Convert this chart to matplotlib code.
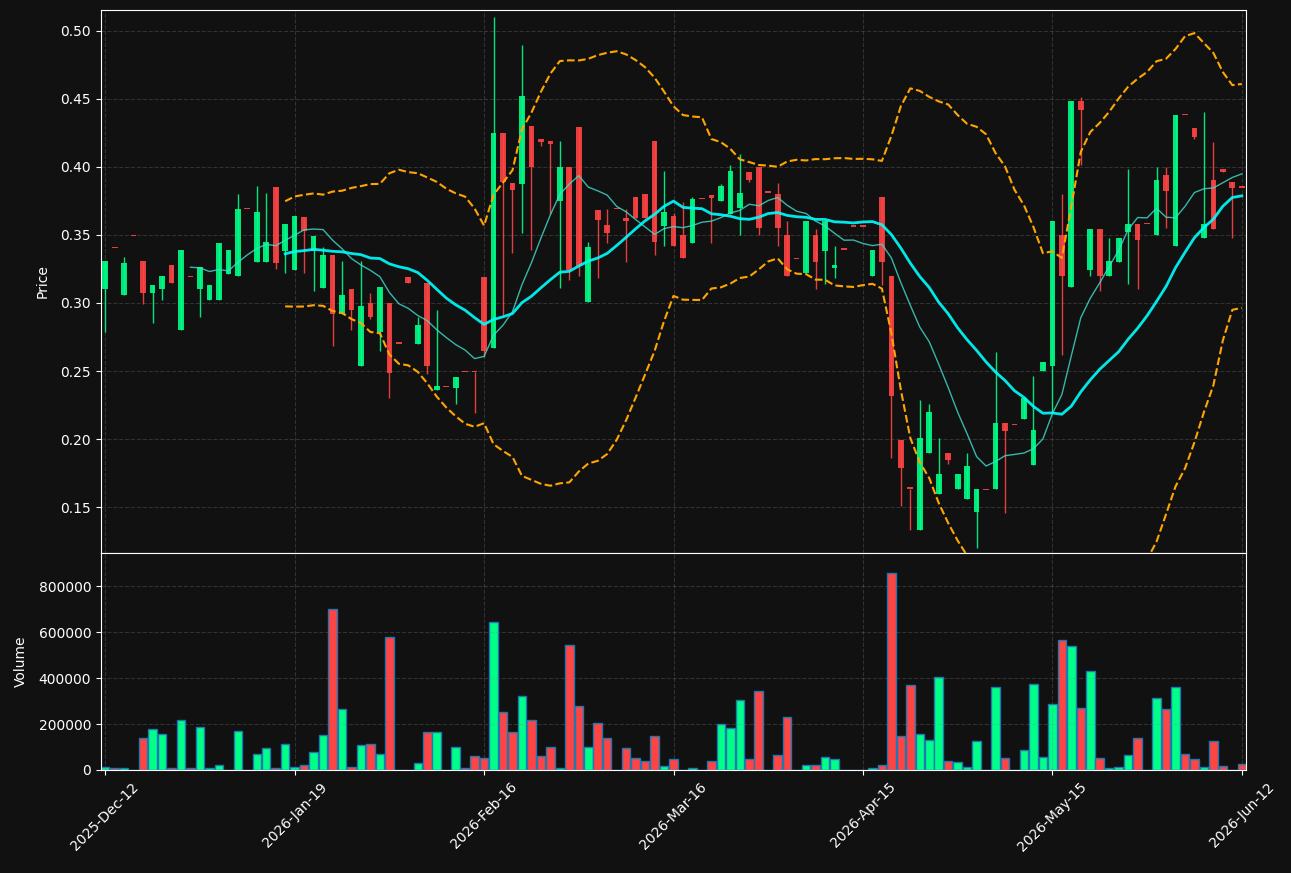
import numpy as np
import pandas as pd
import matplotlib
matplotlib.use('Agg')
import matplotlib.pyplot as plt
from matplotlib.ticker import FuncFormatter, MultipleLocator

# daily OHLC + volume
opens = [0.310, 0.340, 0.306, 0.349, 0.3305, 0.307, 0.310, 0.328, 0.280, 0.319,
         0.310, 0.302, 0.302, 0.3215, 0.320, 0.369, 0.330, 0.330, 0.385, 0.338,
         0.324, 0.363, 0.338, 0.311, 0.3355, 0.2915, 0.3105, 0.254, 0.300, 0.279,
         0.300, 0.270, 0.319, 0.270, 0.3145, 0.236, 0.238, 0.2375, 0.249, 0.249,
         0.319, 0.267, 0.4245, 0.388, 0.387, 0.430, 0.4205, 0.419, 0.375, 0.3995,
         0.4295, 0.301, 0.368, 0.3575, 0.369, 0.3625, 0.378, 0.380, 0.419, 0.3565,
         0.364, 0.350, 0.344, 0.376, 0.3795, 0.3745, 0.3655, 0.370, 0.396, 0.3995,
         0.381, 0.380, 0.350, 0.332, 0.322, 0.350, 0.338, 0.3255, 0.339, 0.356,
         0.356, 0.3195, 0.378, 0.320, 0.199, 0.1635, 0.133, 0.190, 0.160, 0.190,
         0.1635, 0.156, 0.1465, 0.1625, 0.1635, 0.212, 0.210, 0.215, 0.181, 0.250,
         0.254, 0.350, 0.3115, 0.4485, 0.324, 0.3545, 0.3195, 0.330, 0.352, 0.358,
         0.358, 0.350, 0.394, 0.342, 0.438, 0.4285, 0.3475, 0.3905, 0.3985, 0.3885,
         0.3845]
highs = [0.3305, 0.340, 0.334, 0.349, 0.3305, 0.3135, 0.320, 0.328, 0.339, 0.319,
         0.326, 0.313, 0.344, 0.339, 0.380, 0.369, 0.386, 0.381, 0.385, 0.358,
         0.364, 0.363, 0.349, 0.341, 0.3355, 0.331, 0.3105, 0.3305, 0.3075, 0.3115,
         0.300, 0.270, 0.319, 0.290, 0.3145, 0.295, 0.238, 0.2455, 0.249, 0.249,
         0.319, 0.510, 0.4245, 0.388, 0.489, 0.430, 0.4205, 0.419, 0.419, 0.3995,
         0.4295, 0.345, 0.368, 0.369, 0.369, 0.369, 0.378, 0.380, 0.419, 0.397,
         0.366, 0.374, 0.3775, 0.376, 0.3795, 0.3875, 0.401, 0.4095, 0.396, 0.3995,
         0.381, 0.388, 0.3605, 0.332, 0.3605, 0.3545, 0.3605, 0.342, 0.339, 0.356,
         0.356, 0.339, 0.378, 0.320, 0.199, 0.1635, 0.2285, 0.226, 0.2005, 0.190,
         0.1745, 0.190, 0.163, 0.1625, 0.264, 0.212, 0.210, 0.230, 0.246, 0.2565,
         0.3605, 0.380, 0.4485, 0.451, 0.3545, 0.3545, 0.348, 0.348, 0.398, 0.358,
         0.358, 0.400, 0.400, 0.438, 0.438, 0.4285, 0.440, 0.418, 0.3985, 0.3885,
         0.3845]
lows = [0.279, 0.340, 0.306, 0.349, 0.299, 0.285, 0.3025, 0.3145, 0.280, 0.319,
        0.290, 0.302, 0.302, 0.3215, 0.320, 0.369, 0.330, 0.330, 0.325, 0.322,
        0.324, 0.322, 0.309, 0.311, 0.268, 0.2915, 0.280, 0.254, 0.288, 0.265,
        0.230, 0.270, 0.3145, 0.270, 0.248, 0.236, 0.238, 0.226, 0.249, 0.219,
        0.260, 0.267, 0.290, 0.337, 0.351, 0.339, 0.415, 0.3655, 0.311, 0.317,
        0.3195, 0.301, 0.318, 0.344, 0.369, 0.330, 0.3625, 0.3625, 0.335, 0.342,
        0.342, 0.333, 0.344, 0.376, 0.344, 0.3745, 0.3655, 0.350, 0.3885, 0.350,
        0.381, 0.342, 0.3195, 0.332, 0.322, 0.3105, 0.314, 0.318, 0.339, 0.356,
        0.356, 0.3195, 0.313, 0.186, 0.151, 0.133, 0.133, 0.190, 0.160, 0.1815,
        0.1635, 0.156, 0.120, 0.1625, 0.1635, 0.1455, 0.210, 0.215, 0.181, 0.250,
        0.219, 0.262, 0.3115, 0.401, 0.3195, 0.3085, 0.3195, 0.330, 0.314, 0.3105,
        0.358, 0.350, 0.355, 0.342, 0.438, 0.420, 0.3475, 0.3545, 0.396, 0.348,
        0.3845]
closes = [0.3305, 0.340, 0.3295, 0.349, 0.307, 0.3135, 0.320, 0.3145, 0.339, 0.319,
          0.326, 0.313, 0.344, 0.339, 0.369, 0.369, 0.367, 0.345, 0.329, 0.358,
          0.364, 0.353, 0.349, 0.3355, 0.2915, 0.306, 0.295, 0.2975, 0.2895, 0.3115,
          0.2485, 0.270, 0.3145, 0.2835, 0.254, 0.239, 0.238, 0.2455, 0.249, 0.249,
          0.265, 0.425, 0.3885, 0.383, 0.452, 0.400, 0.4185, 0.417, 0.3995, 0.324,
          0.327, 0.341, 0.361, 0.3515, 0.369, 0.360, 0.3625, 0.3625, 0.3445, 0.3665,
          0.342, 0.333, 0.3765, 0.376, 0.377, 0.3855, 0.397, 0.381, 0.390, 0.355,
          0.381, 0.355, 0.3195, 0.332, 0.3605, 0.330, 0.3605, 0.328, 0.339, 0.356,
          0.356, 0.339, 0.330, 0.2315, 0.179, 0.1635, 0.2005, 0.220, 0.1745, 0.185,
          0.1745, 0.180, 0.163, 0.1625, 0.212, 0.206, 0.210, 0.230, 0.2065, 0.2565,
          0.3605, 0.3195, 0.4485, 0.442, 0.3545, 0.3195, 0.3305, 0.348, 0.358, 0.346,
          0.358, 0.3905, 0.382, 0.438, 0.438, 0.4215, 0.358, 0.3545, 0.396, 0.3845,
          0.3845]
volumes = [14600, 10200, 10200, 0, 138400, 177800, 155900, 10200, 217100, 7300,
           186500, 10200, 20400, 0, 169000, 0, 68500, 94700, 10200, 112200,
           14600, 20400, 77200, 151600, 702400, 265200, 14600, 107800, 112200, 68500,
           580000, 1500, 1500, 29100, 164700, 164700, 0, 99100, 10200, 59700,
           51000, 645600, 252100, 164700, 322100, 217100, 59700, 99100, 7300, 545000,
           278300, 99100, 204000, 138400, 0, 94700, 51000, 37900, 147200, 16000,
           46600, 0, 7300, 0, 37900, 199700, 182200, 304600, 46600, 343900,
           0, 64100, 230300, 1500, 20400, 20400, 55400, 46600, 1500, 0,
           1500, 7300, 20400, 859800, 147200, 370100, 155900, 129700, 405100, 37900,
           33500, 11700, 125300, 0, 361400, 51000, 0, 86000, 374500, 55400,
           287100, 566900, 540700, 269600, 431400, 51000, 7300, 11700, 64100, 138400,
           1500, 313300, 265200, 361400, 68500, 46600, 11700, 125300, 16000, 0,
           24800]
tick_labels = ['2025-Dec-12', '2026-Jan-19', '2026-Feb-16', '2026-Mar-16',
               '2026-Apr-15', '2026-May-15', '2026-Jun-12']

df = pd.DataFrame({'open': opens, 'high': highs, 'low': lows,
                   'close': closes, 'volume': volumes})
x = np.arange(len(df))

ma10 = df['close'].rolling(10).mean()
ma20 = df['close'].rolling(20).mean()
std20 = df['close'].rolling(20).std()
upper = ma20 + 2 * std20
lower = ma20 - 2 * std20

bg = '#111111'
up_col, down_col = '#00ff88', '#ff4444'
is_up = df['close'] > df['open']
cols = np.where(is_up, up_col, down_col)

fig = plt.figure(figsize=(12.91, 8.73), dpi=100, facecolor=bg)
ax = fig.add_axes([0.0782, 0.3666, 0.887, 0.622], facecolor=bg)
axv = fig.add_axes([0.0782, 0.118, 0.887, 0.2486], facecolor=bg, sharex=ax)

# candles
body_bottom = np.minimum(df['open'], df['close'])
body_h = np.maximum((df['close'] - df['open']).abs(), 0.001)
ax.vlines(x, df['low'], df['high'], colors=cols, linewidth=1, alpha=0.9, zorder=2)
ax.bar(x, body_h, bottom=body_bottom, width=0.6, color=cols, alpha=0.9, zorder=3)

ax.plot(x, ma10, color='#40e0d0', linewidth=1, alpha=0.8, zorder=4)
ax.plot(x, ma20, color='cyan', linewidth=2, alpha=0.9, zorder=4)
ax.plot(x, upper, color='orange', linestyle='--', linewidth=1.5, zorder=4)
ax.plot(x, lower, color='orange', linestyle='--', linewidth=1.5, zorder=4)

ax.set_ylim(df['low'].min() * 0.97, df['high'].max() * 1.01)
ax.yaxis.set_major_locator(MultipleLocator(0.05))
ax.yaxis.set_major_formatter(FuncFormatter(lambda v, p: f'{v:.2f}'))
ax.set_ylabel('Price', color='white', fontsize=10, labelpad=8)
plt.setp(ax.get_xticklabels(), visible=False)

# volume
axv.bar(x, df['volume'], width=0.9, color=cols, edgecolor='#1f77b4', linewidth=1)
axv.set_ylim(0, df['volume'].max() * 1.1)
axv.yaxis.set_major_locator(MultipleLocator(200000))
axv.yaxis.set_major_formatter(FuncFormatter(lambda v, p: f'{int(v)}'))
axv.set_ylabel('Volume', color='white', fontsize=10, labelpad=8)

axv.set_xlim(-0.45, len(df) - 0.55)
axv.set_xticks(x[::20])
axv.set_xticklabels(tick_labels, rotation=45)

for a in (ax, axv):
    a.grid(True, linestyle='--', color='gray', alpha=0.3)
    a.tick_params(colors='white', labelsize=10)
    for s in a.spines.values():
        s.set_color('white')

fig.savefig('out.png', dpi=100, facecolor=bg)
